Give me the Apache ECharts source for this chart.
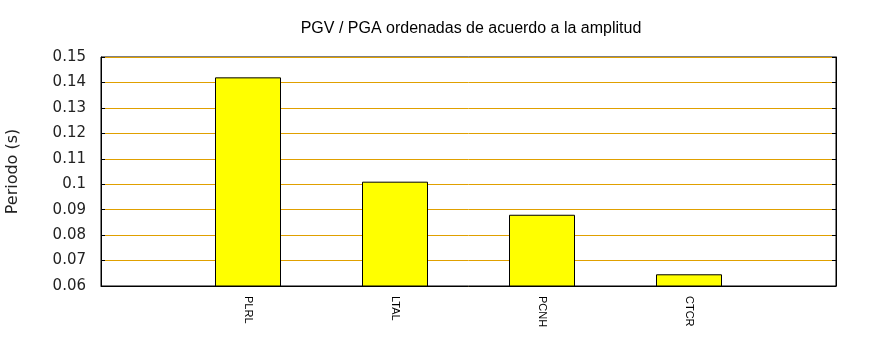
<!DOCTYPE html>
<html>
<head>
<meta charset="utf-8">
<script src="https://cdn.jsdelivr.net/npm/echarts@6/dist/echarts.min.js"></script>
<style>
html,body{margin:0;padding:0;background:#fff;}
#chart{width:870px;height:350px;}
</style>
</head>
<body>
<div id="chart"></div>
<script>
const titleText = 'PGV / PGA ordenadas de acuerdo a la amplitud';
const yAxisName = 'Periodo (s)';
const categories = ['', 'PLRL', 'LTAL', 'PCNH', 'CTCR', ''];
const values = [null, 0.142, 0.101, 0.088, 0.0646, null];
const yTicks = [0.06, 0.07, 0.08, 0.09, 0.1, 0.11, 0.12, 0.13, 0.14, 0.15];

const chart = echarts.init(document.getElementById('chart'), null, {renderer: 'canvas'});
const yMin = yTicks[0], yMax = yTicks[yTicks.length - 1];
chart.setOption({
  animation: false,
  backgroundColor: '#fff',
  title: {
    text: titleText,
    left: 466, top: 16, textAlign: 'center',
    textStyle: {fontFamily: 'Liberation Sans', fontSize: 16, fontWeight: 'normal', color: '#000'}
  },
  grid: {left: 101, right: 34, top: 57, bottom: 64, show: true, borderColor: '#000', borderWidth: 1,
         backgroundColor: 'transparent', containLabel: false, outerBoundsMode: 'none'},
  xAxis: {
    type: 'category',
    data: categories,
    boundaryGap: false,
    axisLine: {show: true, lineStyle: {color: '#000', width: 1}},
    axisTick: {show: false},
    splitLine: {show: false},
    axisLabel: {
      rotate: -90, margin: 10, interval: 0,
      fontFamily: 'Liberation Sans', fontSize: 11, color: '#000'
    }
  },
  yAxis: [{
    type: 'value',
    min: yMin, max: yMax, interval: 0.01,
    name: yAxisName,
    nameLocation: 'middle', nameGap: 80, nameRotate: 90,
    nameTextStyle: {fontFamily: 'DejaVu Sans', fontSize: 16, color: '#222'},
    axisLine: {show: true, lineStyle: {color: '#000'}},
    axisTick: {show: true, inside: true, length: 4, lineStyle: {color: '#000'}},
    splitLine: {show: true, lineStyle: {color: '#e0a000', width: 1}},
    axisLabel: {
      margin: 15, fontFamily: 'DejaVu Sans', fontSize: 15, color: '#222',
      formatter: v => String(parseFloat(v.toFixed(4)))
    }
  }, {
    type: 'value',
    position: 'right',
    min: yMin, max: yMax, interval: 0.01,
    axisLine: {show: true, lineStyle: {color: '#000'}},
    axisTick: {show: true, inside: true, length: 4, lineStyle: {color: '#000'}},
    splitLine: {show: false},
    axisLabel: {show: false}
  }],
  series: [{
    type: 'bar',
    data: values,
    barWidth: 66,
    itemStyle: {color: '#ffff00', borderColor: '#000', borderWidth: 1}
  }]
});
</script>
</body>
</html>
